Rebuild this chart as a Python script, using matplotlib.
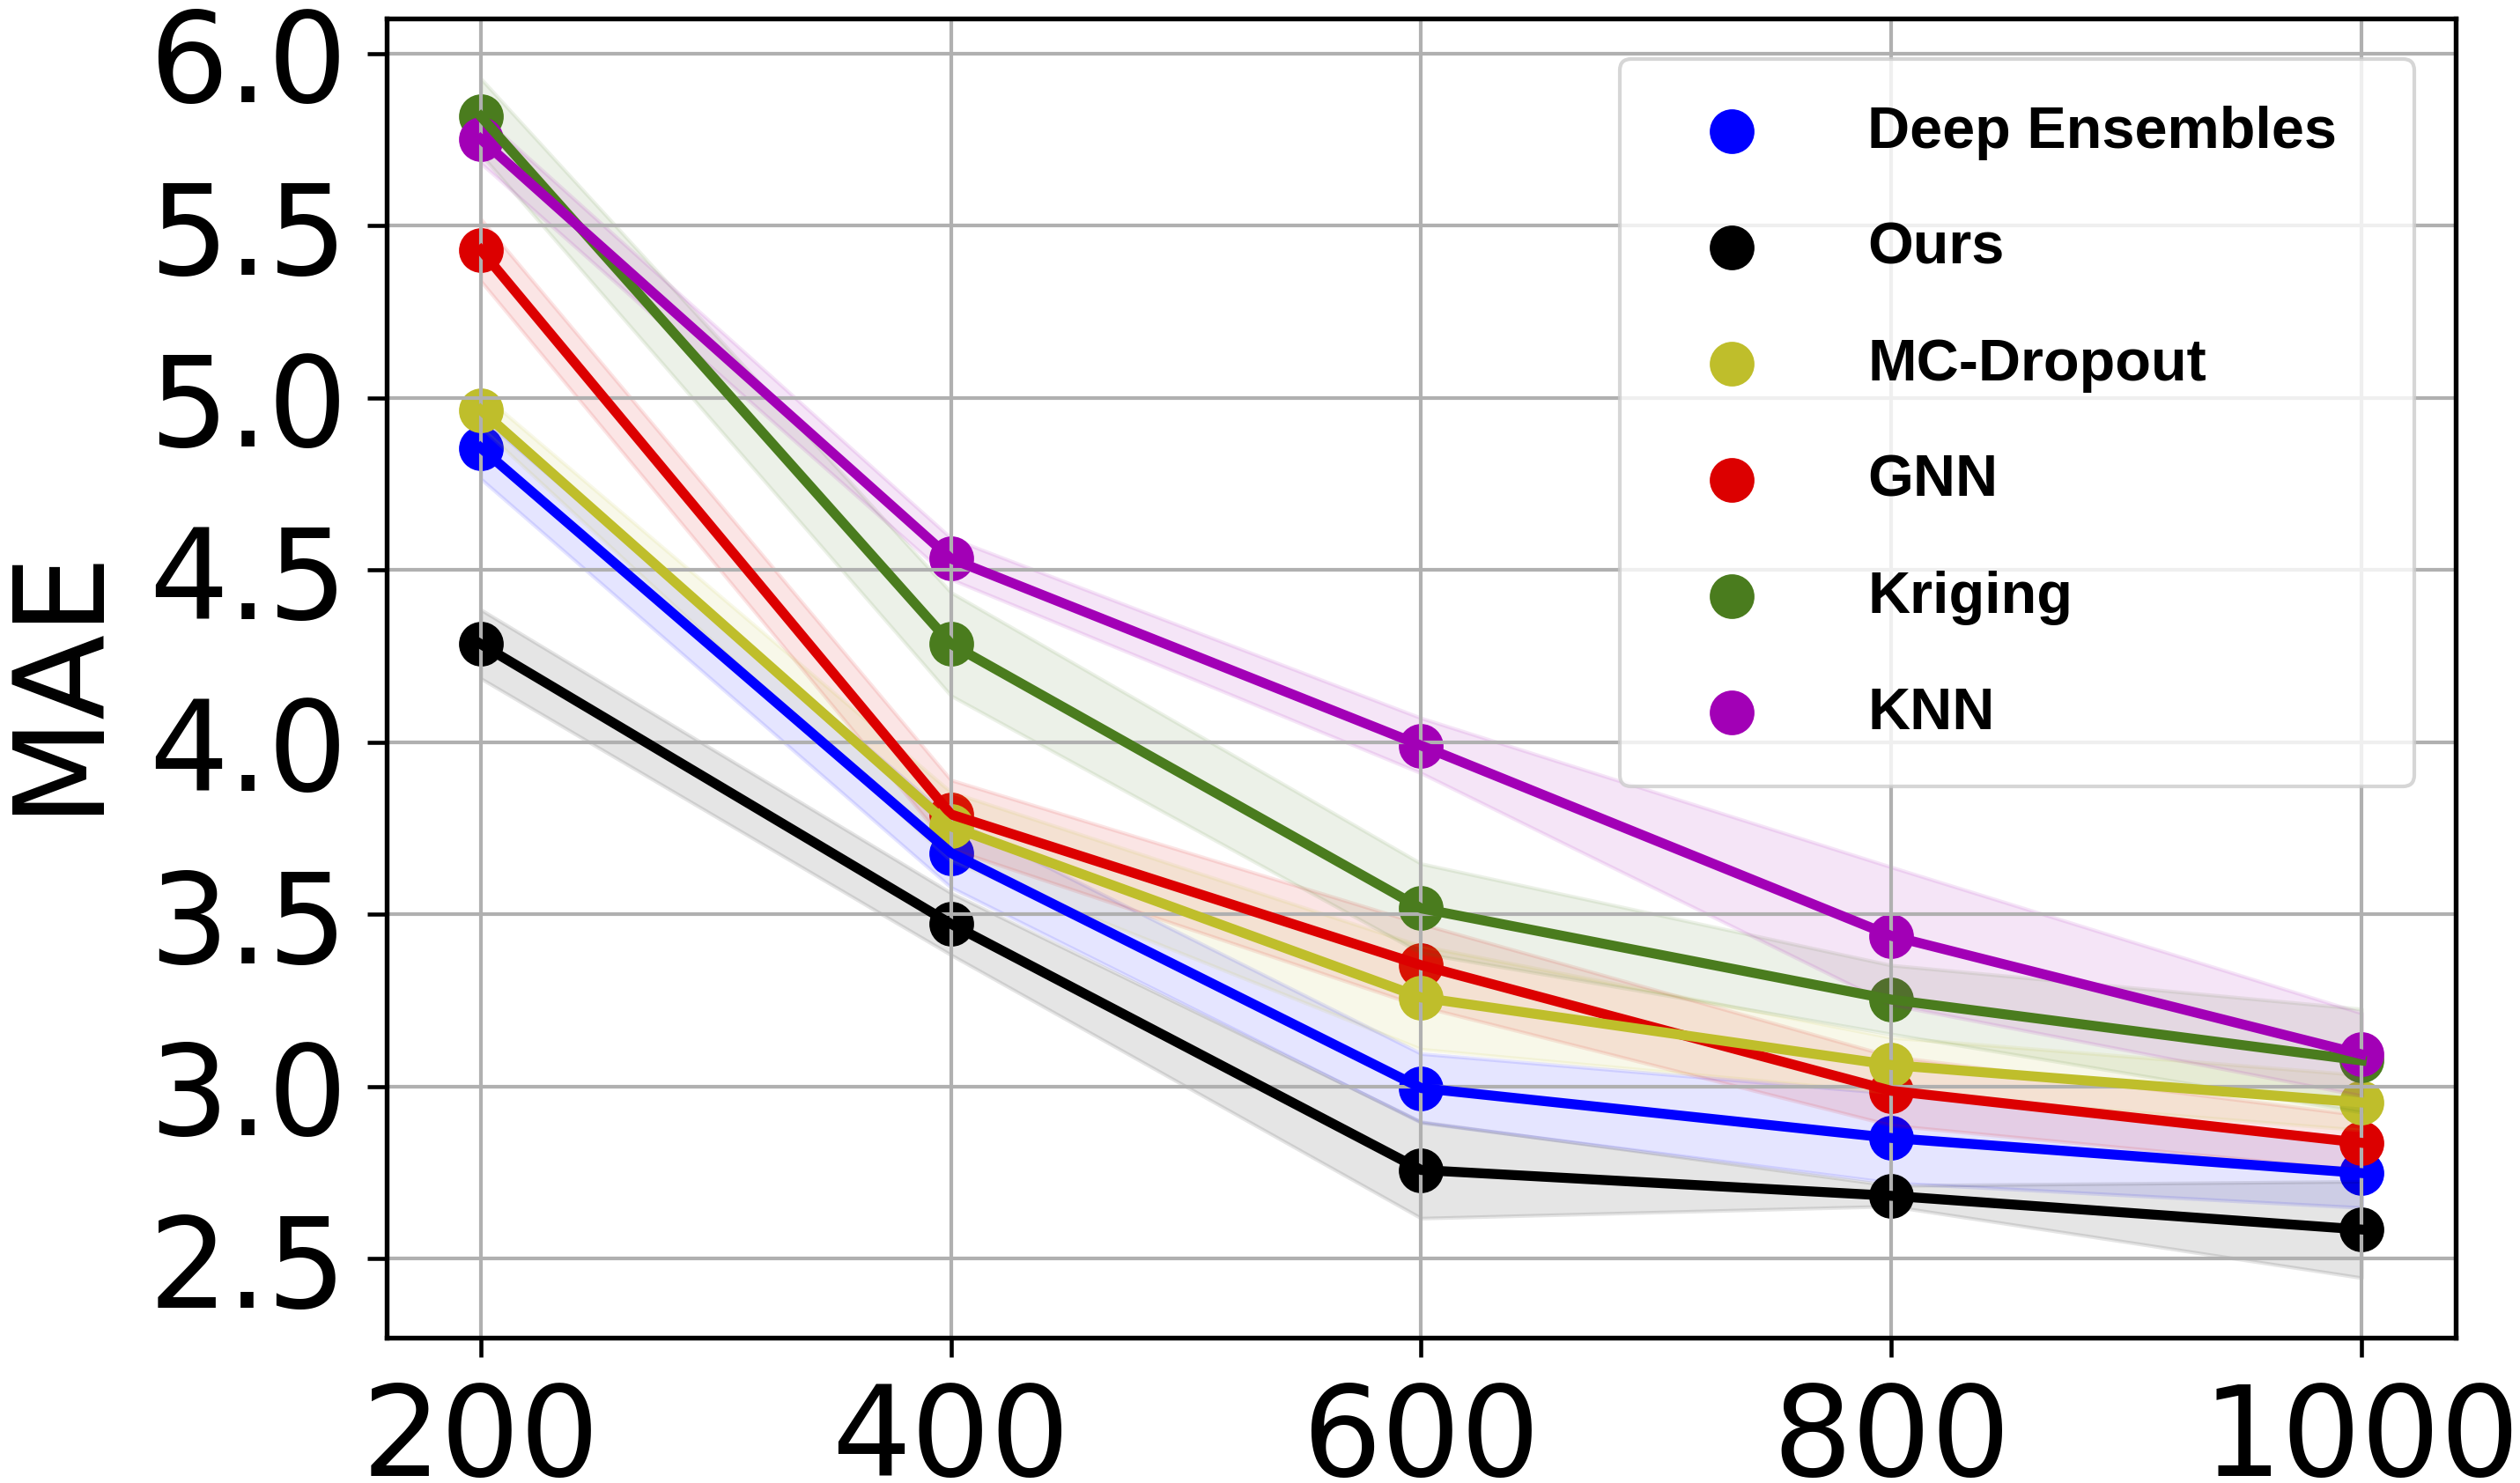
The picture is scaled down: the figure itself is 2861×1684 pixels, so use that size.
import matplotlib
matplotlib.use('Agg')
import matplotlib.pyplot as plt
import numpy as np

# Number of training samples
sizes = [200, 400, 600, 800, 1000]

methods = ["Deep Ensembles", "Ours", "MC-Dropout", "GNN", "Kriging", "KNN"]
colors = ["#0000ff", "#000000", "#bfbe2b", "#dc0000", "#4a7c1e", "#a200b6"]

# Mean MAE per method
mae_deep_ens = [4.855, 3.678, 2.995, 2.850, 2.748]
mae_ours = [4.285, 3.472, 2.757, 2.682, 2.584]
mae_mc_dropout = [4.965, 3.755, 3.258, 3.062, 2.953]
mae_gnn = [5.430, 3.790, 3.352, 2.987, 2.836]
mae_kriging = [5.818, 4.285, 3.517, 3.252, 3.075]
mae_knn = [5.752, 4.533, 3.990, 3.437, 3.093]

# Spread (std) per method
std_deep_ens = [0.09, 0.10, 0.10, 0.13, 0.10]
std_ours = [0.10, 0.09, 0.14, 0.03, 0.14]
std_mc_dropout = [0.05, 0.10, 0.15, 0.08, 0.08]
std_gnn = [0.09, 0.10, 0.12, 0.10, 0.08]
std_kriging = [0.11, 0.15, 0.13, 0.10, 0.15]
std_knn = [0.07, 0.06, 0.08, 0.20, 0.12]

means = [mae_deep_ens, mae_ours, mae_mc_dropout, mae_gnn, mae_kriging, mae_knn]
stds = [std_deep_ens, std_ours, std_mc_dropout, std_gnn, std_kriging, std_knn]

# order in which the lines are stacked (yellow above red, purple above green)
draw_order = [0, 1, 3, 2, 4, 5]

fig = plt.figure(figsize=(2862 / 300, 1685 / 300), dpi=300)
ax = fig.add_axes([439 / 2862, 1 - 1520 / 1685, (2788 - 439) / 2862, (1520 - 22) / 1685])

x = np.array(sizes)
handles = {}
for i in draw_order:
    m = np.array(means[i])
    s = np.array(stds[i])
    c = colors[i]
    handles[i] = ax.scatter(x, m, s=125, color=c, label=methods[i])
    ax.plot(x, m, color=c, linewidth=2.7)
    ax.fill_between(x, m - s, m + s, color=c, alpha=0.1)

ax.set_xticks(sizes)
ax.set_yticks([2.5, 3.0, 3.5, 4.0, 4.5, 5.0, 5.5, 6.0])
ax.tick_params(axis='both', labelsize=34, length=5.3, width=1.1)
ax.tick_params(axis='y', pad=5.5)
ax.tick_params(axis='x', pad=6)
for sp in ax.spines.values():
    sp.set_linewidth(1.3)
ax.grid(True, linewidth=1.0)
ax.set_ylabel("MAE", fontsize=34, labelpad=8)

leg = ax.legend([handles[i] for i in range(len(methods))], methods,
                loc='upper left', bbox_to_anchor=(0.596, 0.42, 0.384, 0.5493),
                mode='expand', borderaxespad=0, borderpad=0.78,
                labelspacing=1.05, handlelength=2.25, handletextpad=1.19,
                scatterpoints=1, prop={'family': 'Liberation Sans', 'weight': 'bold', 'size': 16})

fig.savefig("out.png", dpi=300)
